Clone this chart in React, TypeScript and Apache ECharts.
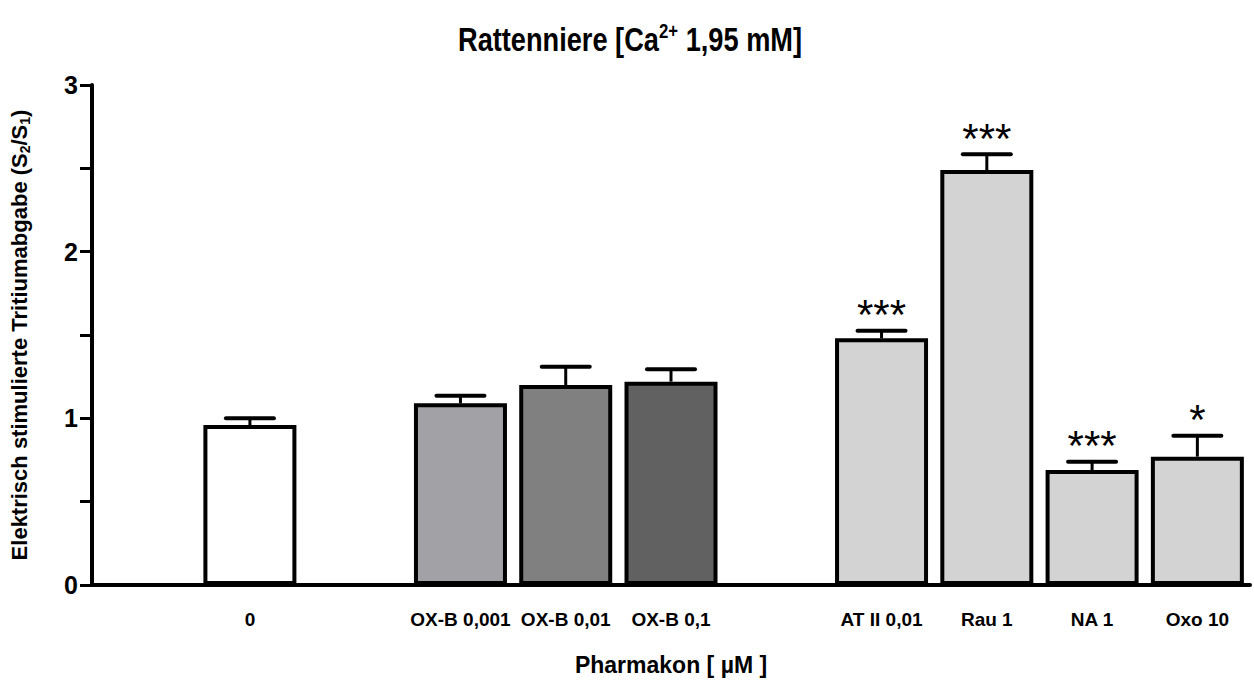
import React, { useEffect, useRef } from "react";
import * as echarts from "echarts";

// ---- data ----
const slotLabels = ["", "0", "", "OX-B 0,001", "OX-B 0,01", "OX-B 0,1", "", "AT II 0,01", "Rau 1", "NA 1", "Oxo 10"];
const means: (number | null)[] = [null, 0.96, null, 1.09, 1.2, 1.22, null, 1.48, 2.49, 0.69, 0.77];
const sems: (number | null)[] = [null, 0.04, null, 0.045, 0.11, 0.075, null, 0.045, 0.095, 0.05, 0.125];
const stars = ["", "", "", "", "", "", "", "***", "***", "***", "*"];
const yTicks = [0, 1, 2, 3];

// ---- styles ----
const barColors = ["#ffffff", "#ffffff", "#ffffff", "#a2a1a5", "#808080", "#616161", "#ffffff", "#d3d3d3", "#d3d3d3", "#d3d3d3", "#d3d3d3"];
const FONT = '"Liberation Sans", Arial, Helvetica, sans-serif';

export default function App() {
  const ref = useRef<HTMLDivElement>(null);
  useEffect(() => {
    if (!ref.current) return;
    const chart = echarts.init(ref.current, undefined, { renderer: "svg" });

    const barData = means.map((m, i) =>
      m == null ? { value: null } : { value: m, itemStyle: { color: barColors[i] } }
    );
    const errData: any[] = [];
    const errStars: string[] = [];
    means.forEach((m, i) => {
      if (m != null && sems[i] != null) {
        errData.push([i, m, m + (sems[i] as number)]);
        errStars.push(stars[i]);
      }
    });

    const option: any = {
      animation: false,
      backgroundColor: "#ffffff",
      textStyle: { fontFamily: FONT },
      graphic: [
        {
          type: "text",
          x: 630,
          y: 39,
          scaleX: 0.8,
          style: {
            text: "{b|Rattenniere [Ca}{sup|2+}{b| 1,95 mM]}",
            textAlign: "center",
            textVerticalAlign: "middle",
            fill: "#000",
            rich: {
              b: { fontFamily: FONT, fontWeight: "bold", fontSize: 34, lineHeight: 38, fill: "#000" },
              sup: { fontFamily: FONT, fontWeight: "bold", fontSize: 21, lineHeight: 21, verticalAlign: "top", fill: "#000" },
            },
          },
        },
      ],
      grid: { left: 90, right: 4, top: 85, bottom: 96, containLabel: false },
      xAxis: {
        type: "category",
        data: slotLabels,
        axisLine: { show: true, lineStyle: { color: "#000", width: 4 } },
        axisTick: { show: false },
        axisLabel: { color: "#000", fontWeight: "bold", fontSize: 19, fontFamily: FONT, margin: 25, interval: 0 },
        name: "Pharmakon [ µM ]",
        nameLocation: "middle",
        nameGap: 68,
        nameTextStyle: { color: "#000", fontWeight: "bold", fontSize: 23, fontFamily: FONT },
        splitLine: { show: false },
      },
      yAxis: {
        type: "value",
        min: 0,
        max: 3,
        interval: 0.5,
        axisLine: { show: true, lineStyle: { color: "#000", width: 4 } },
        axisTick: { show: true, length: 12, lineStyle: { color: "#000", width: 3 } },
        axisLabel: {
          color: "#000",
          fontWeight: "bold",
          fontSize: 25,
          fontFamily: FONT,
          margin: 14,
          formatter: (v: number) => (yTicks.includes(v) ? String(v) : ""),
        },
        splitLine: { show: false },
        name: "{b|Elektrisch stimulierte Tritiumabgabe (S}{sub|2}{b|/S}{sub|1}{b|)}",
        nameLocation: "middle",
        nameRotate: 90,
        nameGap: 60,
        nameTextStyle: {
          color: "#000",
          rich: {
            b: { fontFamily: FONT, fontWeight: "bold", fontSize: 22, lineHeight: 26, color: "#000" },
            sub: { fontFamily: FONT, fontWeight: "bold", fontSize: 14, lineHeight: 14, verticalAlign: "bottom", color: "#000" },
          },
        },
      },
      series: [
        {
          type: "bar",
          data: barData,
          barWidth: 93,
          itemStyle: { borderColor: "#000", borderWidth: 4 },
          z: 2,
        },
        {
          type: "custom",
          data: errData,
          z: 3,
          renderItem: (params: any, api: any) => {
            const x = api.value(0);
            const p0 = api.coord([x, api.value(1)]);
            const p1 = api.coord([x, api.value(2)]);
            const half = 24;
            const children: any[] = [
              { type: "line", shape: { x1: p0[0], y1: p0[1], x2: p1[0], y2: p1[1] }, style: { stroke: "#000", lineWidth: 3 } },
              { type: "line", shape: { x1: p1[0] - half, y1: p1[1], x2: p1[0] + half, y2: p1[1] }, style: { stroke: "#000", lineWidth: 4, lineCap: "round" } },
            ];
            const s = errStars[params.dataIndex];
            if (s) {
              children.push({
                type: "text",
                x: p1[0],
                y: p1[1] - 16,
                style: { text: s, fill: "#000", font: `normal 42px ${FONT}`, textAlign: "center", textVerticalAlign: "middle" },
              });
            }
            return { type: "group", children };
          },
        },
      ],
    };
    chart.setOption(option);
    return () => chart.dispose();
  }, []);
  return <div ref={ref} style={{ width: 1254, height: 681, position: "absolute", left: 0, top: 0 }} />;
}
